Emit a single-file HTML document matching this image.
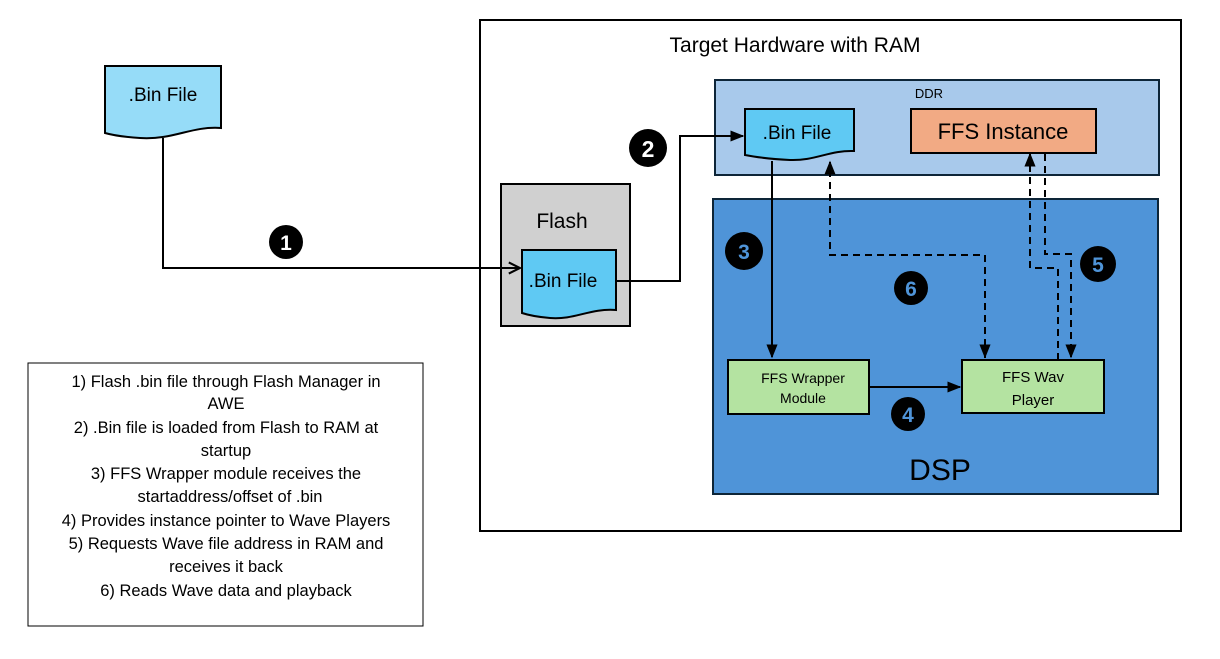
<!DOCTYPE html>
<html><head><style>body{margin:0;background:#fff}svg{display:block}text{font-family:"Liberation Sans",sans-serif}</style></head><body>
<svg width="1220" height="659" viewBox="0 0 1220 659" xmlns="http://www.w3.org/2000/svg">
<defs>
<marker id="a" viewBox="0 0 10 10" refX="9" refY="5" markerWidth="7" markerHeight="7" orient="auto"><path d="M0,1 L10,5 L0,9 z" fill="#000"/></marker>
<marker id="o" viewBox="0 0 10 10" refX="9" refY="5" markerWidth="7" markerHeight="7" orient="auto"><path d="M1,1 L9,5 L1,9" fill="none" stroke="#000" stroke-width="1.5"/></marker>
</defs>
<rect x="480" y="20" width="701" height="511" fill="#fff" stroke="#000" stroke-width="2"/>
<text x="795" y="52" font-size="21" text-anchor="middle">Target Hardware with RAM</text>
<!-- left bin -->
<path d="M105,66 H221 V128 C190,126 175,140 140,138 C125,137 112,135 105,133 Z" fill="#96dcf8" stroke="#000" stroke-width="2"/>
<text x="163" y="101" font-size="19" text-anchor="middle">.Bin File</text>
<!-- flash -->
<rect x="501" y="184" width="129" height="142" fill="#d0d0d0" stroke="#000" stroke-width="2"/>
<text x="562" y="228" font-size="21" text-anchor="middle">Flash</text>
<path d="M522,250 H616 V310 C590,308 575,320 550,318 C538,317 528,315 522,313 Z" fill="#5fc9f3" stroke="#000" stroke-width="2"/>
<text x="563" y="287" font-size="19" text-anchor="middle">.Bin File</text>
<polyline points="163,138 163,268 520,268" fill="none" stroke="#000" stroke-width="2" marker-end="url(#o)"/>
<circle cx="286" cy="242" r="17" fill="#000"/><text x="286" y="250" font-size="21" fill="#fff" text-anchor="middle" font-weight="bold">1</text>
<!-- DDR -->
<rect x="715" y="80" width="444" height="95" fill="#a8c9eb" stroke="#0d2538" stroke-width="2"/>
<text x="929" y="98" font-size="13" text-anchor="middle">DDR</text>
<path d="M745,109 H854 V151 C830,150 815,161 790,160 C770,159 755,157 745,155 Z" fill="#5fc9f3" stroke="#000" stroke-width="2"/>
<text x="797" y="139" font-size="19" text-anchor="middle">.Bin File</text>
<rect x="911" y="109" width="185" height="44" fill="#f2aa84" stroke="#000" stroke-width="2"/>
<text x="1003" y="139" font-size="22" text-anchor="middle">FFS Instance</text>
<polyline points="616,281 680,281 680,136 743,136" fill="none" stroke="#000" stroke-width="2" marker-end="url(#a)"/>
<circle cx="648" cy="148" r="19" fill="#000"/><text x="648" y="157" font-size="23" fill="#fff" text-anchor="middle" font-weight="bold">2</text>
<!-- DSP -->
<rect x="713" y="199" width="445" height="295" fill="#4f94d8" stroke="#0d2538" stroke-width="2"/>
<text x="940" y="480" font-size="30" text-anchor="middle">DSP</text>
<rect x="728" y="360" width="141" height="54" fill="#b4e3a1" stroke="#000" stroke-width="2"/>
<text x="803" y="383" font-size="14" text-anchor="middle">FFS Wrapper</text>
<text x="803" y="403" font-size="14" text-anchor="middle">Module</text>
<rect x="962" y="360" width="142" height="53" fill="#b4e3a1" stroke="#000" stroke-width="2"/>
<text x="1033" y="382" font-size="15" text-anchor="middle">FFS Wav</text>
<text x="1033" y="405" font-size="15" text-anchor="middle">Player</text>
<!-- connectors -->
<line x1="772" y1="161" x2="772" y2="357" stroke="#000" stroke-width="2" marker-end="url(#a)"/>
<line x1="869" y1="387" x2="960" y2="387" stroke="#000" stroke-width="2" marker-end="url(#a)"/>
<g fill="none" stroke="#000" stroke-width="2" stroke-dasharray="7,5">
<polyline points="985,358 985,255 830,255 830,162" marker-end="url(#a)"/>
<polyline points="985,255 985,357" marker-end="url(#a)"/>
<polyline points="1058,360 1058,268 1030,268 1030,154" marker-end="url(#a)"/>
<polyline points="1045,154 1045,254 1071,254 1071,357" marker-end="url(#a)"/>
</g>
<g font-size="21" text-anchor="middle" font-weight="bold" fill="#4f94d8">
<circle cx="744" cy="251" r="19" fill="#000"/><text x="744" y="259">3</text>
<circle cx="908" cy="414" r="17" fill="#000"/><text x="908" y="422">4</text>
<circle cx="1098" cy="264" r="18" fill="#000"/><text x="1098" y="272">5</text>
<circle cx="911" cy="288" r="17" fill="#000"/><text x="911" y="296">6</text>
</g>
<!-- legend -->
<rect x="28" y="363" width="395" height="263" fill="#fff" stroke="#000" stroke-width="1"/>
<g font-size="16.5" text-anchor="middle" xml:space="preserve">
<text x="226" y="387">1)  Flash .bin file through Flash Manager in</text>
<text x="226" y="409">AWE</text>
<text x="226" y="433">2)   .Bin file is loaded from Flash to RAM at</text>
<text x="226" y="456">startup</text>
<text x="226" y="479">3)  FFS Wrapper module receives the</text>
<text x="230" y="502">startaddress/offset of .bin</text>
<text x="226" y="526">4)  Provides instance pointer to Wave Players</text>
<text x="226" y="549">5)  Requests Wave file address in RAM and</text>
<text x="226" y="572">receives it back</text>
<text x="226" y="596">6)  Reads Wave data and playback</text>
</g>
</svg>
</body></html>
